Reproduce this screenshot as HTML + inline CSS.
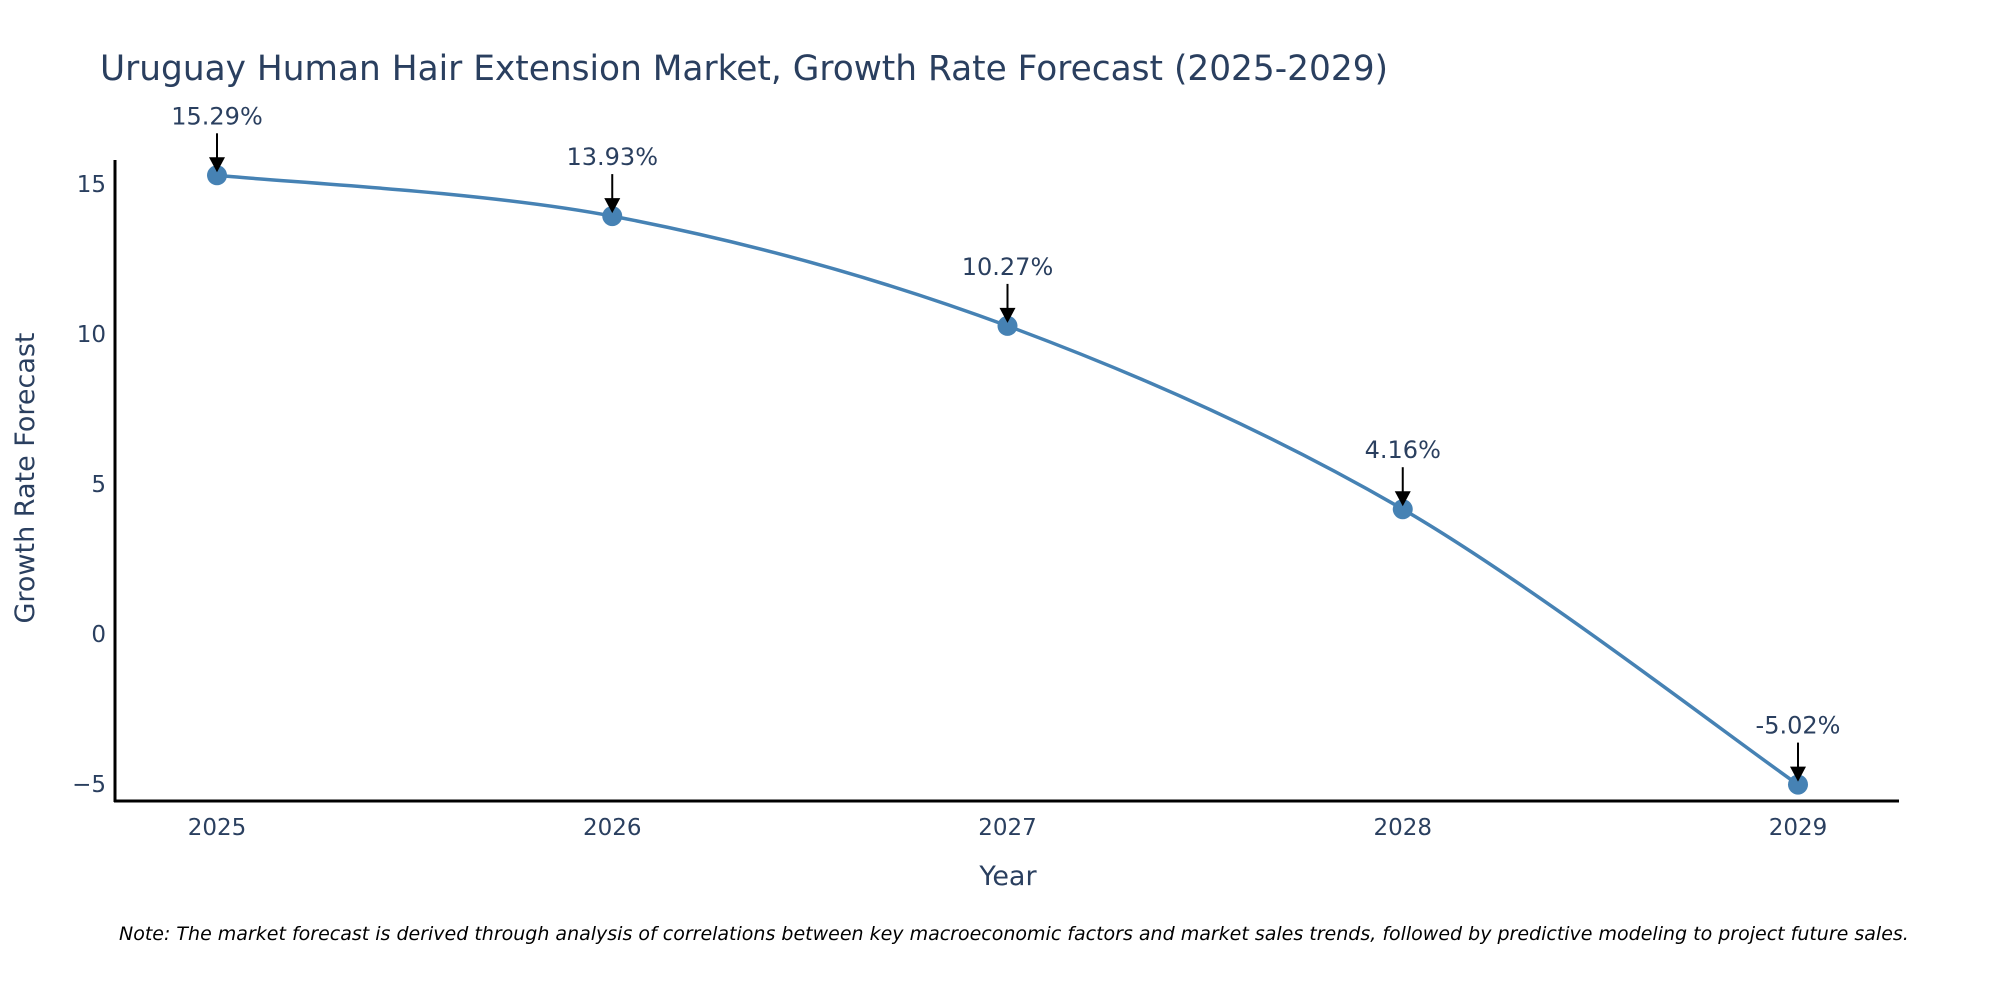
<!DOCTYPE html>
<html><head><meta charset="utf-8"><style>
html,body{margin:0;padding:0;background:#fff;overflow:hidden;}
svg{display:block;font-family:"DejaVu Sans","Liberation Sans",sans-serif;}
</style></head><body>
<svg id="chart" width="2000" height="1000" viewBox="0 0 2000 1000">
<text x="100" y="80" font-size="35" fill="#2a3f5f" textLength="1288" lengthAdjust="spacingAndGlyphs">Uruguay Human Hair Extension Market, Growth Rate Forecast (2025-2029)</text>
<g id="yticks"></g>
<g id="xticks"></g>
<line x1="115" y1="160" x2="115" y2="802" stroke="#000" stroke-width="3"/>
<line x1="114" y1="801" x2="1899" y2="801" stroke="#000" stroke-width="3"/>
<text transform="translate(34,478) rotate(-90)" text-anchor="middle" font-size="27" fill="#2a3f5f">Growth Rate Forecast</text>
<text x="1008" y="885" text-anchor="middle" font-size="27" fill="#2a3f5f">Year</text>
<path id="line" fill="none" stroke="#4682B4" stroke-width="3.5"/>
<g id="points"></g>
<g id="annots"></g>
<text x="119" y="940" font-size="19" font-style="italic" fill="#000">Note: The market forecast is derived through analysis of correlations between key macroeconomic factors and market sales trends, followed by predictive modeling to project future sales.</text>
</svg>
<script>
const years = [2025, 2026, 2027, 2028, 2029];
const values = [15.29, 13.93, 10.27, 4.16, -5.02];
const labels = ["15.29%", "13.93%", "10.27%", "4.16%", "-5.02%"];
const yTicks = [-5, 0, 5, 10, 15];
const NS = "http://www.w3.org/2000/svg";
function xs(v){ return 217 + (v - 2025) * (1798 - 217) / 4; }
function ys(v){ return 634 - v * 30; }
function mk(tag, attrs, parent){ const e = document.createElementNS(NS, tag); for (const k in attrs) e.setAttribute(k, attrs[k]); parent.appendChild(e); return e; }
const yg = document.getElementById('yticks');
yTicks.forEach(t => {
  const e = mk('text', {x: 106, y: ys(t) + 8, 'text-anchor': 'end', 'font-size': 23, fill: '#2a3f5f'}, yg);
  
  
  e.textContent = t < 0 ? '\u2212' + Math.abs(t) : String(t);
});
const xg = document.getElementById('xticks');
years.forEach(y => {
  const e = mk('text', {x: xs(y), y: 835, 'text-anchor': 'middle', 'font-size': 23, fill: '#2a3f5f'}, xg);
  
  
  e.textContent = String(y);
});
const pts = years.map((y, i) => [xs(y), ys(values[i])]);
let d = 'M' + pts[0][0] + ',' + pts[0][1];
const s = 0.33;
for (let i = 0; i < pts.length - 1; i++) {
  const p0 = pts[Math.max(i - 1, 0)], p1 = pts[i], p2 = pts[i + 1], p3 = pts[Math.min(i + 2, pts.length - 1)];
  const c1 = [p1[0] + (p2[0] - p0[0]) * s / 2, p1[1] + (p2[1] - p0[1]) * s / 2];
  const c2 = [p2[0] - (p3[0] - p1[0]) * s / 2, p2[1] - (p3[1] - p1[1]) * s / 2];
  d += ' C' + c1.join(',') + ' ' + c2.join(',') + ' ' + p2.join(',');
}
document.getElementById('line').setAttribute('d', d);
const pg = document.getElementById('points');
const ag = document.getElementById('annots');
pts.forEach((p, i) => {
  const c = mk('circle', {cx: p[0], cy: p[1], r: 10, fill: '#4682B4'}, pg);
  
  
  const l = mk('line', {x1: p[0], y1: p[1] - 42, x2: p[0], y2: p[1] - 12, stroke: '#000', 'stroke-width': 2}, ag);
  
  
  const h = mk('path', {d: 'M' + (p[0] - 8) + ',' + (p[1] - 18) + ' L' + (p[0] + 8) + ',' + (p[1] - 18) + ' L' + p[0] + ',' + (p[1] - 3) + ' Z', fill: '#000'}, ag);
  
  
  const t = mk('text', {x: p[0], y: p[1] - 51, 'text-anchor': 'middle', 'font-size': 24, fill: '#2a3f5f'}, ag);
  
  
  t.textContent = labels[i];
});
</script>
</body></html>
